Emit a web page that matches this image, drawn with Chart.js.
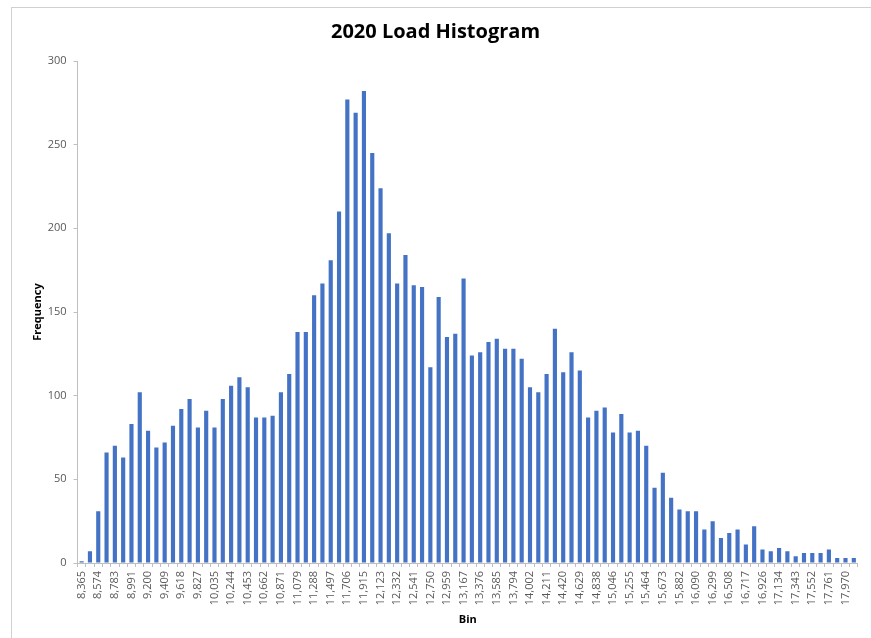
<!DOCTYPE html>
<html>
<head>
<meta charset="utf-8">
<script src="https://cdn.jsdelivr.net/npm/chart.js@4/dist/chart.umd.min.js"></script>
<style>
  html, body { margin: 0; padding: 0; background: #fff; }
  #wrap { position: relative; width: 871px; height: 638px; overflow: hidden; }
  #frame { position: absolute; left: 11px; top: 7px; width: 900px; height: 700px;
           border-left: 1px solid #d0d0d0; border-top: 1px solid #d0d0d0; }
  canvas { position: absolute; left: 0; top: 0; }
</style>
</head>
<body>
<div id="wrap">
  <div id="frame"></div>
  <canvas id="c" width="871" height="638"></canvas>
</div>
<script>
const binLabels = [
  "8,365","8,469","8,574","8,678","8,783","8,887","8,991","9,096","9,200","9,305",
  "9,409","9,514","9,618","9,723","9,827","9,931","10,035","10,140","10,244","10,349",
  "10,453","10,557","10,662","10,766","10,871","10,975","11,079","11,184","11,288","11,393",
  "11,497","11,601","11,706","11,810","11,915","12,019","12,123","12,228","12,332","12,437",
  "12,541","12,645","12,750","12,854","12,959","13,063","13,167","13,272","13,376","13,481",
  "13,585","13,689","13,794","13,898","14,002","14,107","14,211","14,316","14,420","14,524",
  "14,629","14,733","14,838","14,942","15,046","15,151","15,255","15,360","15,464","15,568",
  "15,673","15,777","15,882","15,986","16,090","16,195","16,299","16,404","16,508","16,612",
  "16,717","16,821","16,926","17,030","17,134","17,239","17,343","17,448","17,552","17,656",
  "17,761","17,865","17,970","18,074"
];
const frequency = [
  1,7,31,66,70,63,83,102,79,69,
  72,82,92,98,81,91,81,98,106,111,
  105,87,87,88,102,113,138,138,160,167,
  181,210,277,269,282,245,224,197,167,184,
  166,165,117,159,135,137,170,124,126,132,
  134,128,128,122,105,102,113,140,114,126,
  115,87,91,93,78,89,78,79,70,45,
  54,39,32,31,31,20,25,15,18,20,
  11,22,8,7,9,7,4,6,6,6,
  8,3,3,3
];
const yTicks = [0, 50, 100, 150, 200, 250, 300];

const axisGrey = '#bfbfbf';
const textGrey = '#595959';

new Chart(document.getElementById('c'), {
  type: 'bar',
  data: {
    labels: binLabels,
    datasets: [{
      label: 'Frequency',
      data: frequency,
      backgroundColor: '#4472C4',
      borderWidth: 0,
      barPercentage: 0.5,
      categoryPercentage: 1.0
    }]
  },
  options: {
    responsive: false,
    animation: false,
    layout: { padding: { left: 0, right: 0, top: 0, bottom: 0 } },
    plugins: {
      legend: { display: false },
      tooltip: { enabled: false },
      title: {
        display: true,
        text: '2020 Load Histogram',
        color: '#000',
        font: { family: 'Open Sans', size: 20, weight: 'bold', lineHeight: 1.2 },
        padding: { top: 20, bottom: 17 }
      }
    },
    scales: {
      x: {
        type: 'category',
        offset: true,
        grid: { display: true, offset: true, drawOnChartArea: false, drawTicks: true, tickLength: 4, color: axisGrey },
        border: { display: true, color: axisGrey },
        ticks: {
          autoSkip: false,
          minRotation: 90,
          maxRotation: 90,
          padding: 4,
          color: textGrey,
          font: { family: 'Open Sans', size: 11 },
          callback: function(value, index) { return index % 2 === 0 ? binLabels[index] : ''; }
        },
        title: {
          display: true,
          text: 'Bin',
          color: '#000',
          font: { family: 'Open Sans', size: 11, weight: 'bold', lineHeight: 1.2 },
          padding: { top: 0, bottom: 12 }
        },
        afterFit: function(scale) { scale.height = 75; }
      },
      y: {
        min: 0,
        max: 300,
        afterBuildTicks: function(scale) { scale.ticks = yTicks.map(v => ({ value: v })); },
        grid: { display: true, drawOnChartArea: false, drawTicks: true, tickLength: 4, color: axisGrey },
        border: { display: true, color: axisGrey },
        ticks: {
          padding: 7,
          color: textGrey,
          font: { family: 'Open Sans', size: 11 }
        },
        title: {
          display: true,
          text: 'Frequency',
          color: '#000',
          font: { family: 'Open Sans', size: 11, weight: 'bold', lineHeight: 1.2 },
          padding: { top: 31, bottom: 0 }
        },
        afterFit: function(scale) { scale.width = 77.5; }
      }
    }
  }
});
</script>
</body>
</html>
